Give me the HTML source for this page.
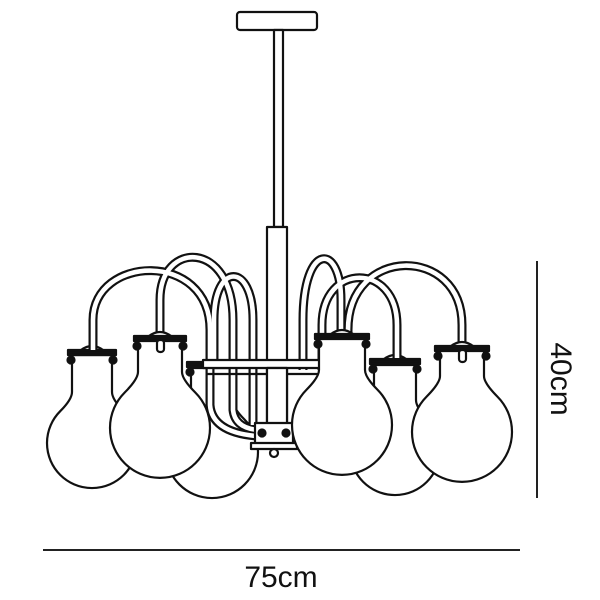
<!DOCTYPE html>
<html><head><meta charset="utf-8"><style>
html,body{margin:0;padding:0;background:#fff;}
svg{display:block}
text{font-family:"Liberation Sans","DejaVu Sans",sans-serif;fill:#111}
</style></head><body>
<svg width="600" height="600" viewBox="0 0 600 600" xmlns="http://www.w3.org/2000/svg">
<g fill="#fff" stroke="#111" stroke-width="2.2" stroke-linejoin="round" stroke-linecap="round">
<rect x="237" y="12" width="80" height="18" rx="3"/>
<rect x="274" y="30" width="9" height="197"/>
<rect x="267" y="227" width="20" height="200"/>

<g>
 <path d="M72,355 L72,392 Q72,399.4 60.2,411.2 A45,45 0 1 0 123.8,411.2 Q112,399.4 112,392 L112,355 Z"/>
 <rect x="68" y="350" width="48" height="5" fill="#111"/>
 <circle cx="71" cy="360" r="3.5" fill="#111"/><circle cx="113" cy="360" r="3.5" fill="#111"/>
 <path d="M81,350 Q92,342 103,350Z"/>
</g>
<g>
 <path d="M191,368 L191,401 Q191,408 179.5,419.5 A46,46 0 1 0 244.5,419.5 Q233,408 233,401 L233,368 Z"/>
 <rect x="187" y="362" width="50" height="5" fill="#111"/>
 <circle cx="190" cy="372" r="3.5" fill="#111"/>
</g>
<g>
 <path d="M374,365 L374,400 Q374,407.4 363.2,418.2 A45,45 0 1 0 426.8,418.2 Q416,407.4 416,400 L416,365 Z"/>
 <rect x="370" y="359" width="50" height="5" fill="#111"/>
 <circle cx="373" cy="369" r="3.5" fill="#111"/><circle cx="417" cy="369" r="3.5" fill="#111"/>
 <path d="M384,359 Q395,351 406,359Z"/>
</g>
</g>

<g fill="none" stroke-linecap="butt">
<g stroke="#111" stroke-width="9">
 <path d="M93,350 L93,320 C93,255 210,250 210,330 L210,405 Q212,432 256,436"/>
 <path d="M160,336 L160,300 C160,240 233,240 233,320 L233,410 Q235,428 258,430"/>
 <path d="M214,364 L214,320 C214,262 253,262 253,320 L253,425"/>
 <path d="M341,336 L341,300 C341,242 303,242 303,320 L303,370"/>
 <path d="M397,358 L397,325 C397,262 322,262 322,325 L322,370"/>
 <path d="M462,346 L462,325 C462,245 348,245 348,330 L348,340"/>
</g>
<g stroke="#fff" stroke-width="4.6">
 <path d="M93,350 L93,320 C93,255 210,250 210,330 L210,405 Q212,432 256,436"/>
 <path d="M160,336 L160,300 C160,240 233,240 233,320 L233,410 Q235,428 258,430"/>
 <path d="M214,364 L214,320 C214,262 253,262 253,320 L253,425"/>
 <path d="M341,336 L341,300 C341,242 303,242 303,320 L303,370"/>
 <path d="M397,358 L397,325 C397,262 322,262 322,325 L322,370"/>
 <path d="M462,346 L462,325 C462,245 348,245 348,330 L348,340"/>
</g>
</g>

<g fill="#fff" stroke="#111" stroke-width="2.2" stroke-linejoin="round">
<rect x="203" y="360" width="117" height="8"/>
<line x1="206" y1="374" x2="318" y2="374"/>
<rect x="267" y="368" width="20" height="57" />
<rect x="255" y="423" width="38" height="22"/>
<rect x="251" y="443" width="46" height="6"/>
<circle cx="274" cy="453" r="4"/>
<circle cx="262" cy="433" r="3.5" fill="#111"/><circle cx="286" cy="433" r="3.5" fill="#111"/>

<g>
 <path d="M138,340 L138,372 Q138,379.2 124.6,392.6 A50,50 0 1 0 195.4,392.6 Q182,379.2 182,372 L182,340 Z"/>
 <rect x="134" y="336" width="52" height="5" fill="#111"/>
 <circle cx="137" cy="346" r="3.5" fill="#111"/><circle cx="183" cy="346" r="3.5" fill="#111"/>
 <path d="M149,336 Q160,328 171,336Z"/>
 <rect x="157" y="340" width="7" height="12" rx="3"/>
</g>
<g>
 <path d="M319,338 L319,370 Q319,377.2 306.6,389.6 A50,50 0 1 0 377.4,389.6 Q365,377.2 365,370 L365,338 Z"/>
 <rect x="315" y="334" width="54" height="5" fill="#111"/>
 <circle cx="318" cy="344" r="3.5" fill="#111"/><circle cx="366" cy="344" r="3.5" fill="#111"/>
 <path d="M331,334 Q342,326 353,334Z"/>
</g>
<g>
 <path d="M440,350 L440,376 Q440,383.2 426.6,396.6 A50,50 0 1 0 497.4,396.6 Q484,383.2 484,376 L484,350 Z"/>
 <rect x="435" y="346" width="54" height="5" fill="#111"/>
 <circle cx="438" cy="356" r="3.5" fill="#111"/><circle cx="486" cy="356" r="3.5" fill="#111"/>
 <path d="M451,346 Q462,338 473,346Z"/>
 <rect x="459" y="350" width="7" height="12" rx="3"/>
</g>
</g>

<line x1="537" y1="261" x2="537" y2="498" stroke="#222" stroke-width="2"/>
<line x1="43" y1="550" x2="520" y2="550" stroke="#222" stroke-width="2"/>
<text x="281" y="587" font-size="30" text-anchor="middle">75cm</text>
<text transform="translate(551,379) rotate(90)" font-size="30" text-anchor="middle">40cm</text>
</svg>
</body></html>
